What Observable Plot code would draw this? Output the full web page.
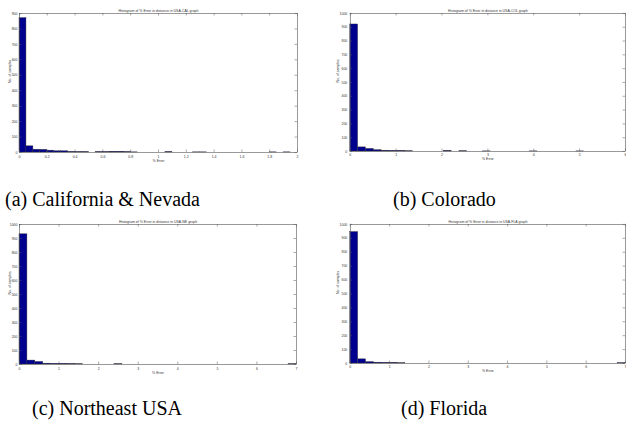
<!DOCTYPE html>
<html><head><meta charset="utf-8">
<script src="https://cdn.jsdelivr.net/npm/d3@7"></script>
<script src="https://cdn.jsdelivr.net/npm/@observablehq/plot@0.6"></script>
<style>
html,body{margin:0;padding:0;background:#fff;overflow:hidden;width:626px;height:424px}
#fig{position:relative;width:626px;height:424px;overflow:hidden}
.panel{position:absolute}
.panel svg{overflow:visible}
.cap{position:absolute;font-family:"Liberation Serif","Times New Roman",serif;font-size:20px;color:#000;white-space:nowrap;line-height:1}
</style></head><body><div id="fig"></div>
<script>
// ---- data ----
const titles = [
  "Histogram of % Error in distance in USA-CAL graph",
  "Histogram of % Error in distance in USA-COL graph",
  "Histogram of % Error in distance in USA-NE graph",
  "Histogram of % Error in distance in USA-FLA graph"
];
const captions = ["(a) California & Nevada", "(b) Colorado", "(c) Northeast USA", "(d) Florida"];
const xLabel = "% Error";
const yLabel = "No. of samples";
const binWidths = [0.05, 0.17, 0.2, 0.2];
const xMax = [2, 6, 7, 7];
const yMax = [900, 1000, 1000, 1000];
const xTicksA = [0, 0.2, 0.4, 0.6, 0.8, 1, 1.2, 1.4, 1.6, 1.8, 2];
const xTicksB = [0, 1, 2, 3, 4, 5, 6];
const xTicksC = [0, 1, 2, 3, 4, 5, 6, 7];
const xTicksD = [0, 1, 2, 3, 4, 5, 6, 7];
const yTicksA = [0, 100, 200, 300, 400, 500, 600, 700, 800, 900];
const yTicksB = [0, 100, 200, 300, 400, 500, 600, 700, 800, 900, 1000];
const countsA = [870, 40, 18, 17, 12, 8, 8, 4, 3, 3, 0, 3, 3, 5, 5, 3, 1, 0, 0, 0,
                 0, 3, 0, 0, 0, 1, 1, 0, 0, 0, 0, 0, 0, 0, 0, 0, 1, 0, 1, 0];
const countsB = [920, 30, 19, 10, 6, 5, 5, 2, 0, 0, 0, 0, 5, 0, 2, 0, 0, 1, 0, 0,
                 0, 0, 0, 1, 0, 0, 0, 0, 0, 1, 0, 0, 0, 0, 0];
const countsC = [930, 28, 18, 6, 5, 5, 4, 2, 0, 0, 0, 0, 2, 0, 0, 0, 0, 0, 0, 0,
                 0, 0, 0, 0, 0, 0, 0, 0, 0, 0, 0, 0, 0, 0, 2];
const countsD = [945, 30, 10, 6, 5, 5, 2, 0, 0, 0, 0, 0, 0, 0, 0, 0, 0, 0, 0, 0,
                 0, 0, 0, 0, 0, 0, 0, 0, 0, 0, 0, 0, 0, 0, 2];

const fig = document.getElementById("fig");
const FONT = "Liberation Sans, Arial, Helvetica, sans-serif";
const FS = 3.5;
const AX = "#555";
const TX = "#333";

function panel(o) {
  const bins = o.counts.map((c, i) => ({x1: i * o.bw, x2: (i + 1) * o.bw, n: c})).filter(d => d.n > 0);
  const innerH = o.height - o.mt - o.mb, innerW = o.width - o.ml - o.mr;
  const tk = 2.5;
  const svg = Plot.plot({
    width: o.width, height: o.height,
    marginLeft: o.ml, marginRight: o.mr, marginTop: o.mt, marginBottom: o.mb,
    style: {fontFamily: FONT, fontSize: FS + "px", color: TX, background: "transparent"},
    x: {domain: [0, o.xmax]},
    y: {domain: [0, o.ymax]},
    marks: [
      Plot.rect(bins, {x1: "x1", x2: "x2", y1: 0, y2: "n", fill: "#00008F", stroke: "#333", strokeWidth: 0.4}),
      Plot.tickX(o.xticks, {x: d => d, insetTop: innerH - tk, stroke: AX, strokeWidth: 0.5}),
      Plot.tickX(o.xticks, {x: d => d, insetBottom: innerH - tk, stroke: AX, strokeWidth: 0.5}),
      Plot.tickY(o.yticks, {y: d => d, insetRight: innerW - tk, stroke: AX, strokeWidth: 0.5}),
      Plot.tickY(o.yticks, {y: d => d, insetLeft: innerW - tk, stroke: AX, strokeWidth: 0.5}),
      Plot.frame({stroke: AX, strokeWidth: 0.6}),
      Plot.axisX(o.xticks, {tickSize: 0, tickPadding: 2.5, label: null, fontSize: FS, fill: TX, tickFormat: d => String(d)}),
      Plot.axisY(o.yticks, {tickSize: 0, tickPadding: o.ypad, label: null, fontSize: FS, fill: TX, tickFormat: d => String(d)}),
      Plot.text([o.title], {frameAnchor: "top", dy: -4, fontSize: FS, fill: TX}),
      Plot.text([xLabel], {frameAnchor: "bottom", dy: 9, fontSize: FS, fill: TX}),
      Plot.text([yLabel], {frameAnchor: "left", rotate: -90, dx: o.ylabdx, fontSize: FS, fill: TX})
    ]
  });
  const div = document.createElement("div");
  div.className = "panel";
  div.style.left = o.left + "px";
  div.style.top = o.top + "px";
  div.appendChild(svg);
  fig.appendChild(div);
}

const layout = [
  {left: 0, top: 0, width: 310, height: 170, ml: 19, mr: 13, mt: 13, mb: 18, ypad: 2, ylabdx: -10},
  {left: 316, top: 0, width: 312, height: 170, ml: 34, mr: 1, mt: 13, mb: 18, ypad: 3, ylabdx: -12},
  {left: 0, top: 210, width: 310, height: 170, ml: 19, mr: 14, mt: 14, mb: 16, ypad: 2, ylabdx: -10},
  {left: 316, top: 210, width: 312, height: 170, ml: 34, mr: 1, mt: 14, mb: 16, ypad: 3, ylabdx: -12}
];
const countsAll = [countsA, countsB, countsC, countsD];
const xTicksAll = [xTicksA, xTicksB, xTicksC, xTicksD];
const yTicksAll = [yTicksA, yTicksB, yTicksB, yTicksB];
layout.forEach((L, i) => panel({
  ...L, counts: countsAll[i], bw: binWidths[i], xmax: xMax[i], ymax: yMax[i],
  xticks: xTicksAll[i], yticks: yTicksAll[i], title: titles[i]
}));

const capPos = [[5, 189], [393, 189], [32, 398], [401, 398]];
captions.forEach((t, i) => {
  const d = document.createElement("div");
  d.className = "cap";
  d.textContent = t;
  d.style.left = capPos[i][0] + "px";
  d.style.top = capPos[i][1] + "px";
  fig.appendChild(d);
});
</script>
</body></html>
